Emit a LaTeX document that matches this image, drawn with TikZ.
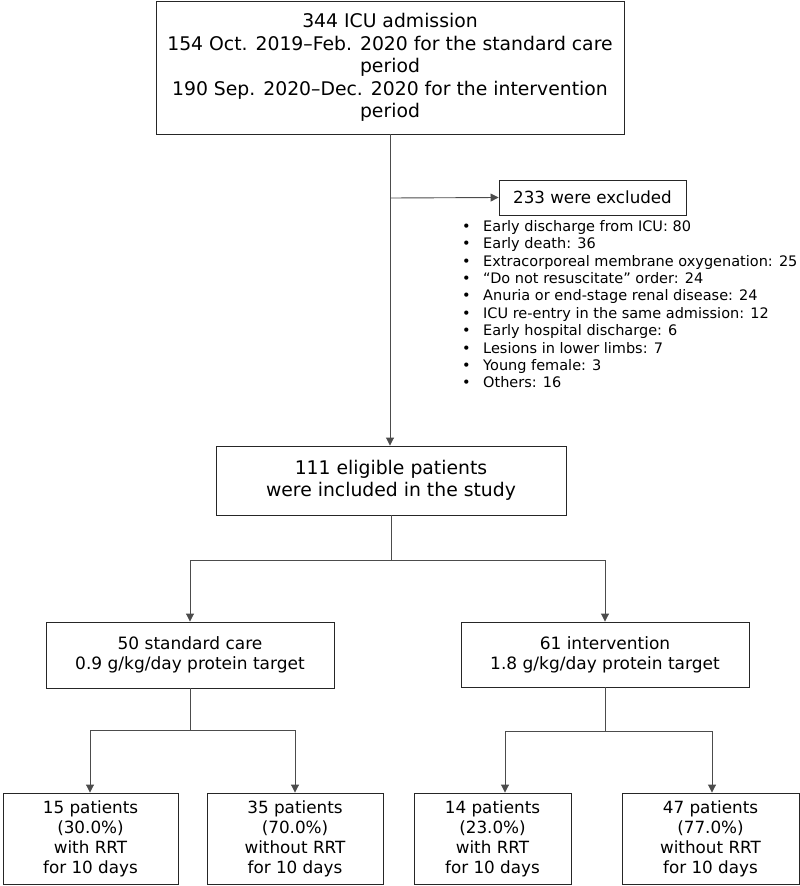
\documentclass[tikz,border=0pt]{standalone}
\usepackage{fontspec}
\setmainfont{DejaVu Sans}
\usetikzlibrary{arrows.meta}
\begin{document}
\begin{tikzpicture}[x=1pt,y=-1pt,
  box/.style={draw=black!85,line width=0.9pt,align=center,inner sep=0pt,anchor=center},
  conn/.style={draw=black!70,line width=0.9pt},
  arr/.style={conn,-{Triangle[length=8pt,width=8pt]}},
  fa/.style={font=\fontsize{18.8}{22.4}\selectfont},
  fx/.style={font=\fontsize{16.7}{20}\selectfont},
  fb/.style={font=\fontsize{18.8}{21.7}\selectfont},
  fc/.style={font=\fontsize{17}{20}\selectfont},
  fd/.style={font=\fontsize{16.8}{20}\selectfont},
  fl/.style={font=\fontsize{14.5}{17.4}\selectfont}]
\useasboundingbox (0,0) rectangle (800,886);
\node[box,fa,minimum width=468pt,minimum height=133pt] (top) at (390,67.5)
  {344 ICU admission\\154 Oct. 2019–Feb. 2020 for the standard care\\period\\190 Sep. 2020–Dec. 2020 for the intervention\\period};
\node[box,fx,minimum width=187pt,minimum height=35pt] (excl) at (592.5,197.5) {233 were excluded};
\node[fl,align=left,anchor=north west,inner sep=0pt] (list) at (462,220)
  {\makebox[21pt][l]{•}Early discharge from ICU: 80\\
   \makebox[21pt][l]{•}Early death: 36\\
   \makebox[21pt][l]{•}Extracorporeal membrane oxygenation: 25\\
   \makebox[21pt][l]{•}“Do not resuscitate” order: 24\\
   \makebox[21pt][l]{•}Anuria or end-stage renal disease: 24\\
   \makebox[21pt][l]{•}ICU re-entry in the same admission: 12\\
   \makebox[21pt][l]{•}Early hospital discharge: 6\\
   \makebox[21pt][l]{•}Lesions in lower limbs: 7\\
   \makebox[21pt][l]{•}Young female: 3\\
   \makebox[21pt][l]{•}Others: 16};
\node[box,fb,minimum width=350pt,minimum height=69pt] (inc) at (391,480.5)
  {111 eligible patients\\were included in the study};
\node[box,fc,minimum width=288pt,minimum height=66pt] (std) at (190,655)
  {50 standard care\\0.9 g/kg/day protein target};
\node[box,fc,minimum width=288pt,minimum height=65pt] (int) at (605,654.5)
  {61 intervention\\1.8 g/kg/day protein target};
\node[box,fd,minimum width=175pt,minimum height=91pt] (b1) at (90.5,838.5)
  {15 patients\\(30.0\%)\\with RRT\\for 10 days};
\node[box,fd,minimum width=176pt,minimum height=91pt] (b2) at (295,838.5)
  {35 patients\\(70.0\%)\\without RRT\\for 10 days};
\node[box,fd,minimum width=157pt,minimum height=91pt] (b3) at (492.5,838.5)
  {14 patients\\(23.0\%)\\with RRT\\for 10 days};
\node[box,fd,minimum width=177pt,minimum height=91pt] (b4) at (710.5,838.5)
  {47 patients\\(77.0\%)\\without RRT\\for 10 days};
% connectors
\coordinate (j1) at (390,198);
\draw[arr] (top.south) -- (top.south |- inc.north);
\draw[arr] (j1) -- (excl.west);
\coordinate (j2) at (391,560);
\coordinate (j2l) at (190,560);
\coordinate (j2r) at (605,560);
\draw[conn] (inc.south) -- (j2);
\draw[conn] (j2l) -- (j2r);
\draw[arr] (j2l) -- (std.north);
\draw[arr] (j2r) -- (int.north);
\coordinate (j3) at (190,730);
\coordinate (j3l) at (90,730);
\coordinate (j3r) at (295,730);
\draw[conn] (std.south) -- (j3);
\draw[conn] (j3l) -- (j3r);
\draw[arr] (j3l) -- (j3l |- b1.north);
\draw[arr] (j3r) -- (j3r |- b2.north);
\coordinate (j4) at (605,731);
\coordinate (j4l) at (505,731);
\coordinate (j4r) at (712,731);
\draw[conn] (int.south) -- (j4);
\draw[conn] (j4l) -- (j4r);
\draw[arr] (j4l) -- (j4l |- b3.north);
\draw[arr] (j4r) -- (j4r |- b4.north);
\end{tikzpicture}
\end{document}
